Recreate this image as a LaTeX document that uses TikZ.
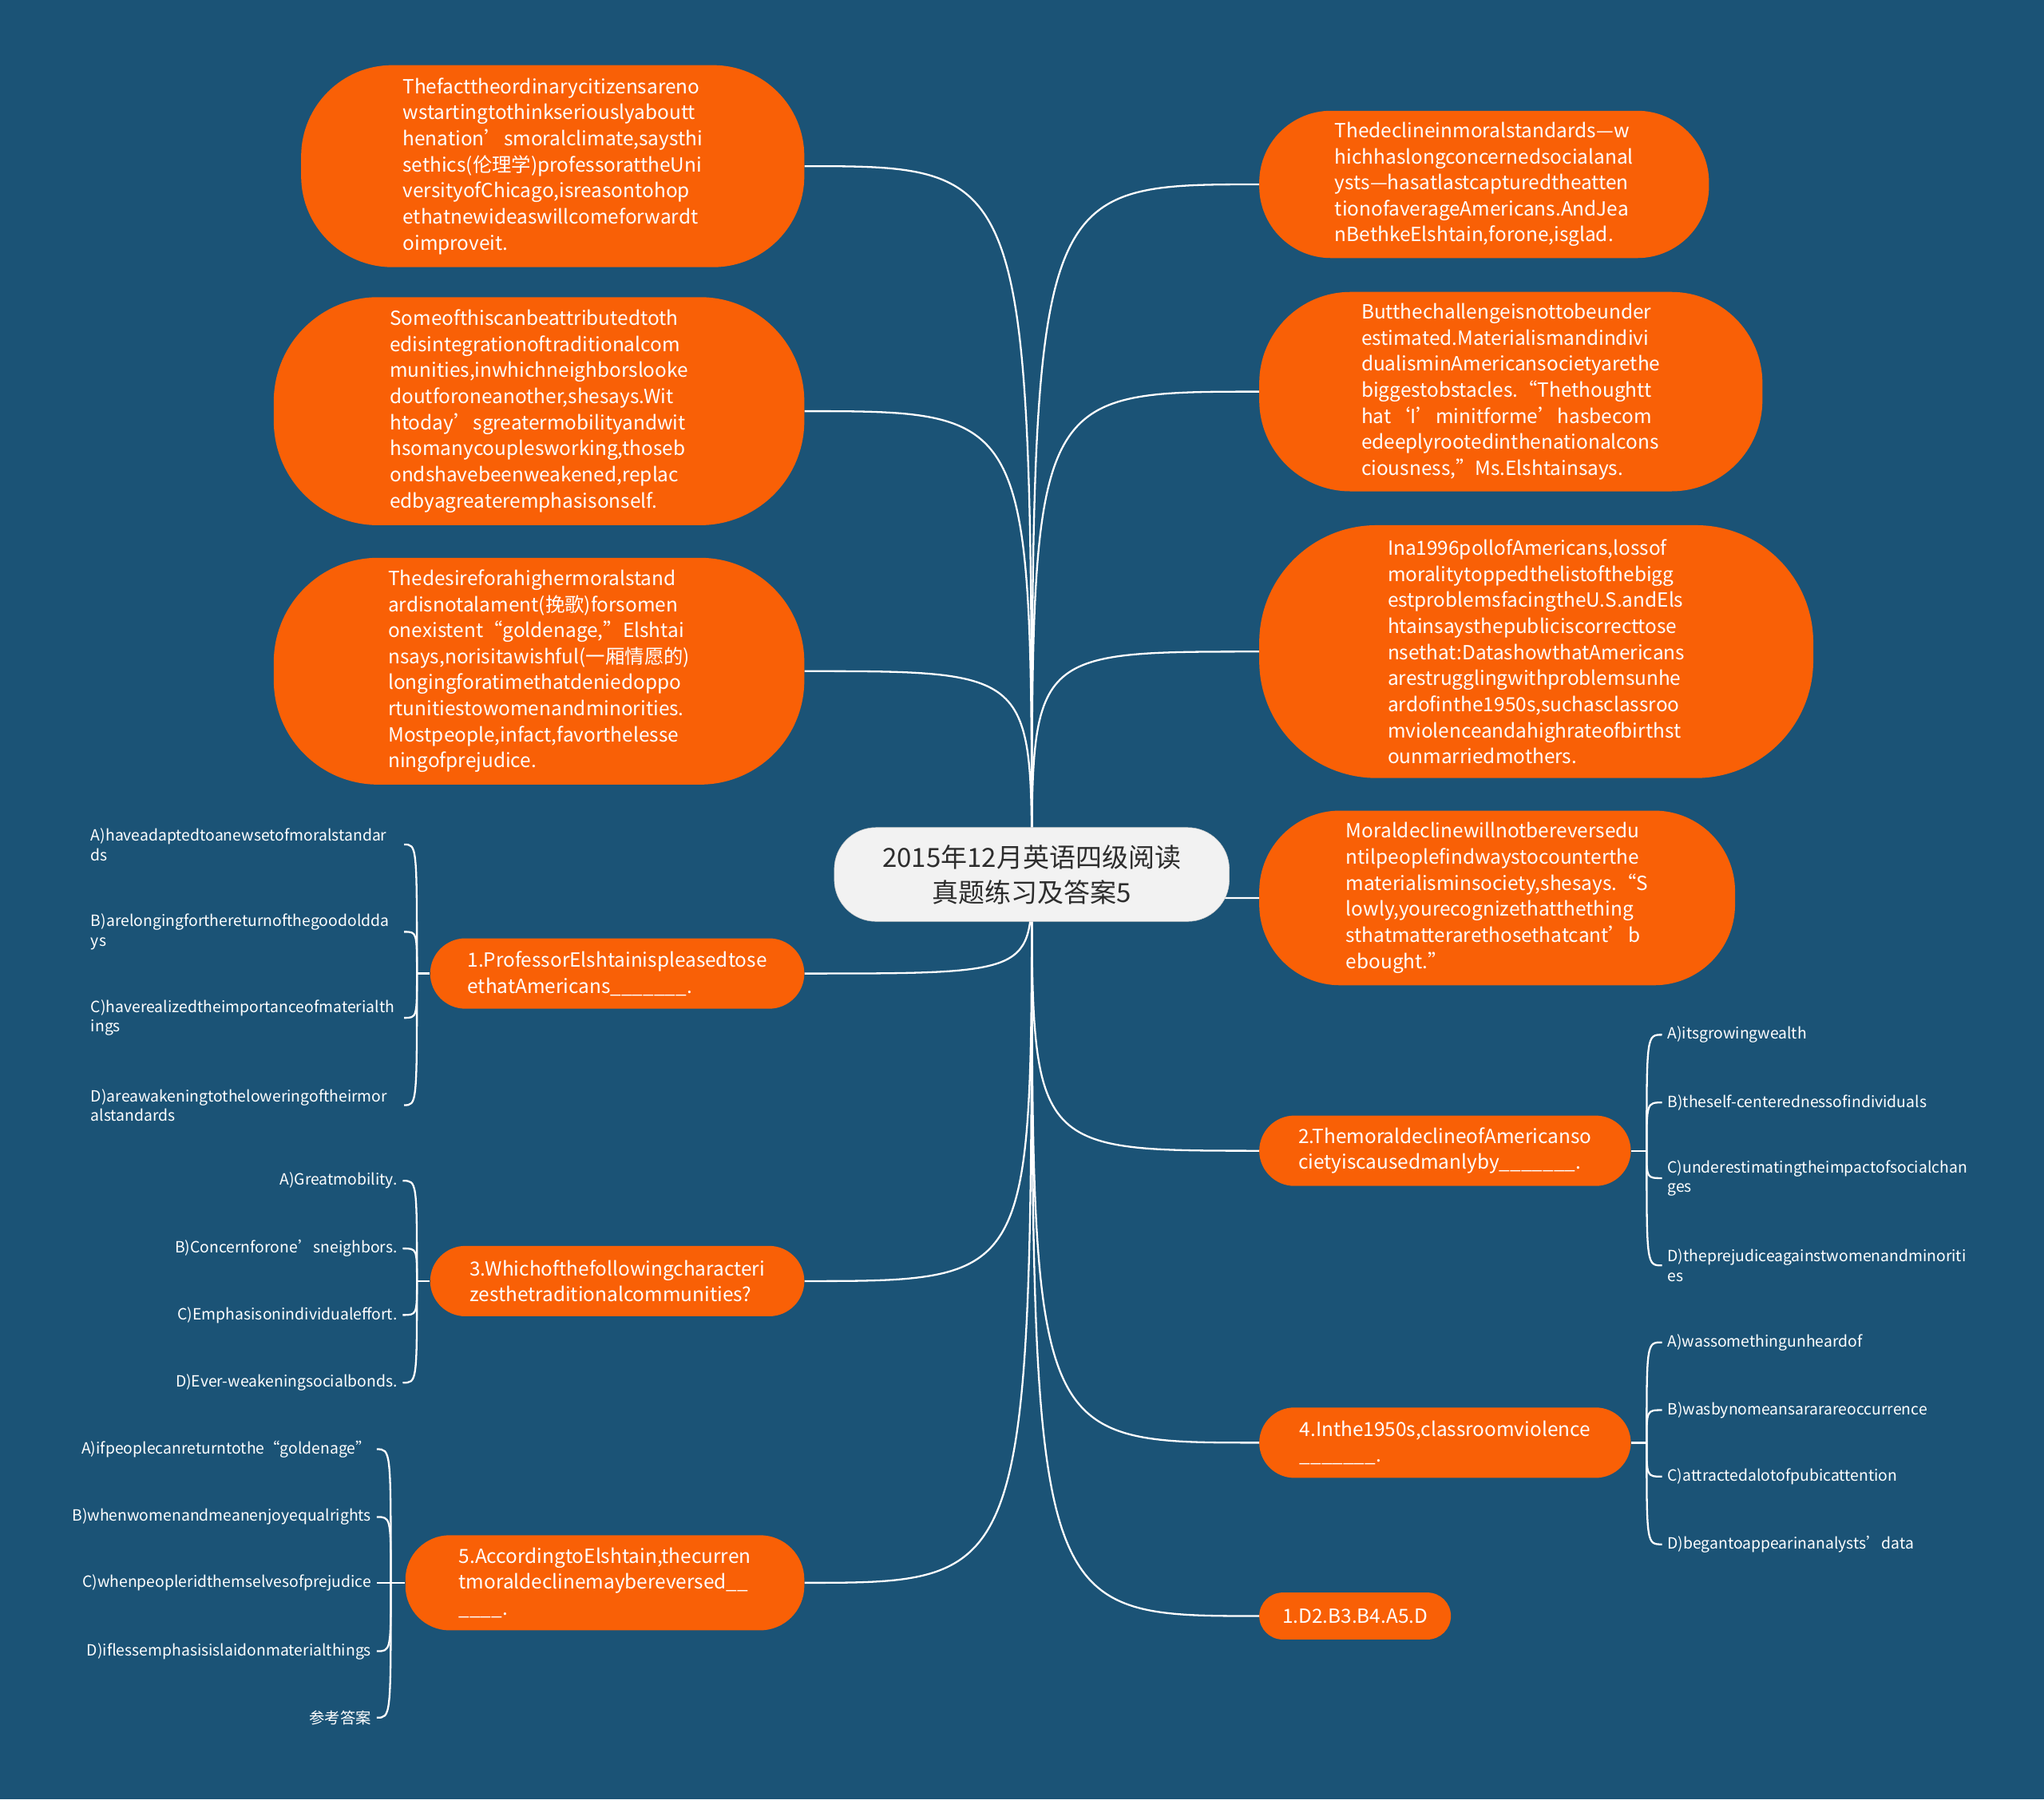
\documentclass[tikz,border=0pt]{standalone}
\usepackage{fontspec}
\setmainfont{Noto Sans CJK SC}
\usetikzlibrary{positioning, backgrounds}

\definecolor{boardblue}{RGB}{27,83,118}
\definecolor{leaforange}{RGB}{249,96,6}
\definecolor{rootgrey}{RGB}{242,242,242}
\definecolor{rootink}{RGB}{45,45,45}

\newcommand{\unitpx}{0.04cm}
\newcommand{\bubblefont}{\fontsize{17}{22.76}\selectfont}
\newcommand{\choicefont}{\fontsize{13.5}{17.07}\selectfont}
\newcommand{\rootfont}{\fontsize{23}{30.7}\selectfont}

\tikzset{
  bubble/.style n args={3}{fill=leaforange, text=white, align=left, inner sep=0pt,
    font=\bubblefont, minimum width=#1*\unitpx, minimum height=#2*\unitpx,
    rounded corners=#3*\unitpx},
  root/.style={fill=rootgrey, draw=white!80!black, text=rootink, align=center,
    font=\rootfont, inner sep=0pt, minimum width=303*\unitpx,
    minimum height=72*\unitpx, rounded corners=32*\unitpx},
  choice/.style={text=white, font=\choicefont, inner xsep=0.16cm, inner ysep=1pt},
  branch/.style={draw=white, line width=1.6pt},
}

\begin{document}
\begin{tikzpicture}[x=0.04cm, y=0.04cm]
  % centre
  \node[root] (root) at (791.5,-671) {2015年12月英语四级阅读\\真题练习及答案5};

  % left side
  \node[bubble={386}{155}{70}] (ethics) at (424,-127.5) {Thefacttheordinarycitizensareno\\wstartingtothinkseriouslyaboutt\\henation’smoralclimate,saysthi\\sethics(伦理学)professorattheUni\\versityofChicago,isreasontohop\\ethatnewideaswillcomeforwardt\\oimproveit.};
  \node[bubble={407}{175}{80}] (bonds) at (413.5,-315.5) {Someofthiscanbeattributedtoth\\edisintegrationoftraditionalcom\\munities,inwhichneighborslooke\\doutforoneanother,shesays.Wit\\htoday’sgreatermobilityandwit\\hsomanycouplesworking,thoseb\\ondshavebeenweakened,replac\\edbyagreateremphasisonself.};
  \node[bubble={407}{174}{80}] (desire) at (413.5,-515) {Thedesireforahighermoralstand\\ardisnotalament(挽歌)forsomen\\onexistent“goldenage,”Elshtai\\nsays,norisitawishful(一厢情愿的)\\longingforatimethatdeniedoppo\\rtunitiestowomenandminorities.\\Mostpeople,infact,favorthelesse\\ningofprejudice.};
  \node[bubble={287}{54}{27}] (q1) at (473.5,-747) {1.ProfessorElshtainispleasedtose\\ethatAmericans\_\_\_\_\_\_\_.};
  \node[bubble={287}{54}{27}] (q3) at (473.5,-983) {3.Whichofthefollowingcharacteri\\zesthetraditionalcommunities?};
  \node[bubble={306}{73}{34}] (q5) at (464,-1214.5) {5.AccordingtoElshtain,thecurren\\tmoraldeclinemaybereversed\_\_\\\_\_\_\_.};

  % right side
  \node[bubble={345}{113}{55}] (decline) at (1138.5,-141.5) {Thedeclineinmoralstandards—w\\hichhaslongconcernedsocialanal\\ysts—hasatlastcapturedtheatten\\tionofaverageAmericans.AndJea\\nBethkeElshtain,forone,isglad.};
  \node[bubble={386}{153}{70}] (challenge) at (1159,-300.5) {Butthechallengeisnottobeunder\\estimated.Materialismandindivi\\dualisminAmericansocietyarethe\\biggestobstacles.“Thethoughtt\\hat‘I’minitforme’hasbecom\\edeeplyrootedinthenationalcons\\ciousness,”Ms.Elshtainsays.};
  \node[bubble={425}{194}{90}] (poll) at (1178.5,-500) {Ina1996pollofAmericans,lossof\\moralitytoppedthelistofthebigg\\estproblemsfacingtheU.S.andEls\\htainsaysthepubliciscorrecttose\\nsethat:DatashowthatAmericans\\arestrugglingwithproblemsunhe\\ardofinthe1950s,suchasclassroo\\mviolenceandahighrateofbirthst\\ounmarriedmothers.};
  \node[bubble={365}{134}{62}] (reverse) at (1148.5,-689) {Moraldeclinewillnotbereversedu\\ntilpeoplefindwaystocounterthe\\materialisminsociety,shesays.“S\\lowly,yourecognizethatthething\\sthatmatterarethosethatcant’b\\ebought.”};
  \node[bubble={285}{54}{27}] (q2) at (1108.5,-883) {2.ThemoraldeclineofAmericanso\\cietyiscausedmanlyby\_\_\_\_\_\_\_.};
  \node[bubble={285}{54}{27}] (q4) at (1108.5,-1107) {4.Inthe1950s,classroomviolence\\\_\_\_\_\_\_\_.};
  \node[bubble={147}{36}{18}] (key) at (1039.5,-1240) {1.D2.B3.B4.A5.D};

  % choices of question 1
  \coordinate[left=0.4cm of q1] (q1fork);
  \node[choice, anchor=east, text width=9.44cm, align=left] (q1a) at (310,-648) {A)haveadaptedtoanewsetofmoralstandar\\ds};
  \node[choice, anchor=east, text width=9.44cm, align=left] (q1b) at (310,-715) {B)arelongingforthereturnofthegoodoldda\\ys};
  \node[choice, anchor=east, text width=9.44cm, align=left] (q1c) at (310,-781) {C)haverealizedtheimportanceofmaterialth\\ings};
  \node[choice, anchor=east, text width=9.44cm, align=left] (q1d) at (310,-848) {D)areawakeningtotheloweringoftheirmor\\alstandards};

  % choices of question 3
  \coordinate[left=0.4cm of q3] (q3fork);
  \node[choice, anchor=east] (q3a) at (309,-906) {A)Greatmobility.};
  \node[choice, anchor=east] (q3b) at (309,-958) {B)Concernforone’sneighbors.};
  \node[choice, anchor=east] (q3c) at (309,-1009) {C)Emphasisonindividualeffort.};
  \node[choice, anchor=east] (q3d) at (309,-1061) {D)Ever-weakeningsocialbonds.};

  % choices of question 5
  \coordinate[left=0.44cm of q5] (q5fork);
  \node[choice, anchor=east] (q5a) at (289,-1112) {A)ifpeoplecanreturntothe“goldenage”};
  \node[choice, anchor=east] (q5b) at (289,-1164) {B)whenwomenandmeanenjoyequalrights};
  \node[choice, anchor=east] (q5c) at (289,-1214.5) {C)whenpeopleridthemselvesofprejudice};
  \node[choice, anchor=east] (q5d) at (289,-1267) {D)iflessemphasisislaidonmaterialthings};
  \node[choice, anchor=east] (q5e) at (289,-1318) {参考答案};

  % choices of question 2
  \coordinate[right=0.48cm of q2] (q2fork);
  \node[choice, anchor=west, align=left] (q2a) at (1275,-794) {A)itsgrowingwealth};
  \node[choice, anchor=west, align=left] (q2b) at (1275,-846) {B)theself-centerednessofindividuals};
  \node[choice, anchor=west, align=left] (q2c) at (1275,-904) {C)underestimatingtheimpactofsocialchan\\ges};
  \node[choice, anchor=west, align=left] (q2d) at (1275,-971) {D)theprejudiceagainstwomenandminoriti\\es};

  % choices of question 4
  \coordinate[right=0.48cm of q4] (q4fork);
  \node[choice, anchor=west, align=left] (q4a) at (1275,-1030) {A)wassomethingunheardof};
  \node[choice, anchor=west, align=left] (q4b) at (1275,-1082) {B)wasbynomeansararareoccurrence};
  \node[choice, anchor=west, align=left] (q4c) at (1275,-1133) {C)attractedalotofpubicattention};
  \node[choice, anchor=west, align=left] (q4d) at (1275,-1185) {D)begantoappearinanalysts’data};

  \begin{scope}[on background layer]
    \fill[boardblue] (0,0) rectangle (1568,-1380.6);
    % branches from the centre
    \foreach \leaf in {ethics,bonds,desire,q1,q3,q5}
      \draw[branch] (root.center) .. controls (root.center |- \leaf.east) .. (\leaf.east);
    \foreach \leaf in {decline,challenge,poll,reverse,q2,q4,key}
      \draw[branch] (root.center) .. controls (root.center |- \leaf.west) .. (\leaf.west);
    % brackets to the choices
    \foreach \q in {q1,q3}{
      \draw[branch] (\q.west) -- (\q fork);
      \foreach \opt in {a,b,c,d}
        \draw[branch] (\q fork) .. controls (\q fork |- \q\opt.east) .. (\q\opt.east);
    }
    \draw[branch] (q5.west) -- (q5fork);
    \foreach \opt in {a,b,c,d,e}
      \draw[branch] (q5fork) .. controls (q5fork |- q5\opt.east) .. (q5\opt.east);
    \foreach \q in {q2,q4}{
      \draw[branch] (\q.east) -- (\q fork);
      \foreach \opt in {a,b,c,d}
        \draw[branch] (\q fork) .. controls (\q fork |- \q\opt.west) .. (\q\opt.west);
    }
  \end{scope}
\end{tikzpicture}
\end{document}
